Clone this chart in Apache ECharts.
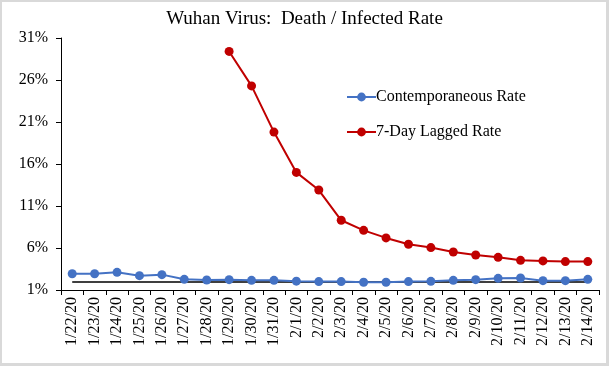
<!DOCTYPE html>
<html>
<head>
<meta charset="utf-8">
<script src="https://cdn.jsdelivr.net/npm/echarts@6/dist/echarts.min.js"></script>
<style>
html,body{margin:0;padding:0;background:#fff;}
#wrap{position:relative;width:609px;height:366px;}
#chart{position:absolute;left:0;top:0;width:609px;height:366px;}
#frame{position:absolute;left:0;top:0;width:609px;height:366px;box-sizing:border-box;border:2px solid #d9d9d9;border-right-width:3px;border-bottom-width:3px;pointer-events:none;}
</style>
</head>
<body>
<div id="wrap"><div id="chart"></div><div id="frame"></div></div>
<script>
const categories = ['1/22/20','1/23/20','1/24/20','1/25/20','1/26/20','1/27/20','1/28/20','1/29/20','1/30/20','1/31/20','2/1/20','2/2/20','2/3/20','2/4/20','2/5/20','2/6/20','2/7/20','2/8/20','2/9/20','2/10/20','2/11/20','2/12/20','2/13/20','2/14/20'];
const contemporaneousRate = [2.94,2.94,3.1,2.71,2.83,2.27,2.19,2.23,2.15,2.15,2.05,2.0,2.0,1.92,1.92,2.0,2.03,2.15,2.23,2.39,2.43,2.11,2.11,2.27];
const laggedRate = [null,null,null,null,null,null,null,29.4,25.3,19.8,15.0,12.9,9.3,8.1,7.2,6.44,6.05,5.53,5.17,4.89,4.53,4.46,4.38,4.38];
const baseline = [1.95,1.95,1.95,1.95,1.95,1.95,1.95,1.95,1.95,1.95,1.95,1.95,1.95,1.95,1.95,1.95,1.95,1.95,1.95,1.95,1.95,1.95,1.95,1.95];
const seriesNames = ['Contemporaneous Rate','7-Day Lagged Rate'];
const titleText = 'Wuhan Virus:  Death / Infected Rate';

const font = '"Liberation Serif", "Times New Roman", serif';
const chart = echarts.init(document.getElementById('chart'), null, {renderer:'canvas'});
chart.setOption({
  animation:false,
  backgroundColor:'#ffffff',
  title:{text:titleText,left:'center',top:10,padding:0,textStyle:{fontFamily:font,fontSize:19,fontWeight:'normal',color:'#000'}},
  legend:{
    data:seriesNames, orient:'vertical', left:346, top:89, padding:0,
    itemWidth:29, itemHeight:11, itemGap:19,
    textStyle:{fontFamily:font,fontSize:16,color:'#000',padding:[0,0,0,-5]}
  },
  grid:{left:61,right:10,top:38,bottom:76,containLabel:false},
  xAxis:{
    type:'category', data:categories, boundaryGap:true,
    axisLine:{lineStyle:{color:'#000',width:1}},
    axisTick:{show:true,alignWithLabel:false,length:5,lineStyle:{color:'#000'}},
    axisLabel:{rotate:90,interval:0,fontFamily:font,fontSize:16,color:'#000',margin:7},
    splitLine:{show:false}
  },
  yAxis:{
    type:'value', min:1, max:31, interval:5,
    axisLine:{show:true,lineStyle:{color:'#000',width:1}},
    axisTick:{show:true,length:5,lineStyle:{color:'#000'}},
    axisLabel:{formatter:v=>v+'%',fontFamily:font,fontSize:16,color:'#000',margin:13},
    splitLine:{show:false}
  },
  series:[
    {name:'baseline',type:'line',data:baseline,symbol:'none',lineStyle:{color:'#000',width:1.5},z:1,silent:true},
    {name:seriesNames[0],type:'line',data:contemporaneousRate,symbol:'circle',symbolSize:9,
     itemStyle:{color:'#4472C4'},lineStyle:{color:'#4472C4',width:2},z:3},
    {name:seriesNames[1],type:'line',data:laggedRate,symbol:'circle',symbolSize:9,connectNulls:false,
     itemStyle:{color:'#C00000'},lineStyle:{color:'#C00000',width:2},z:3}
  ]
});
</script>
</body>
</html>
